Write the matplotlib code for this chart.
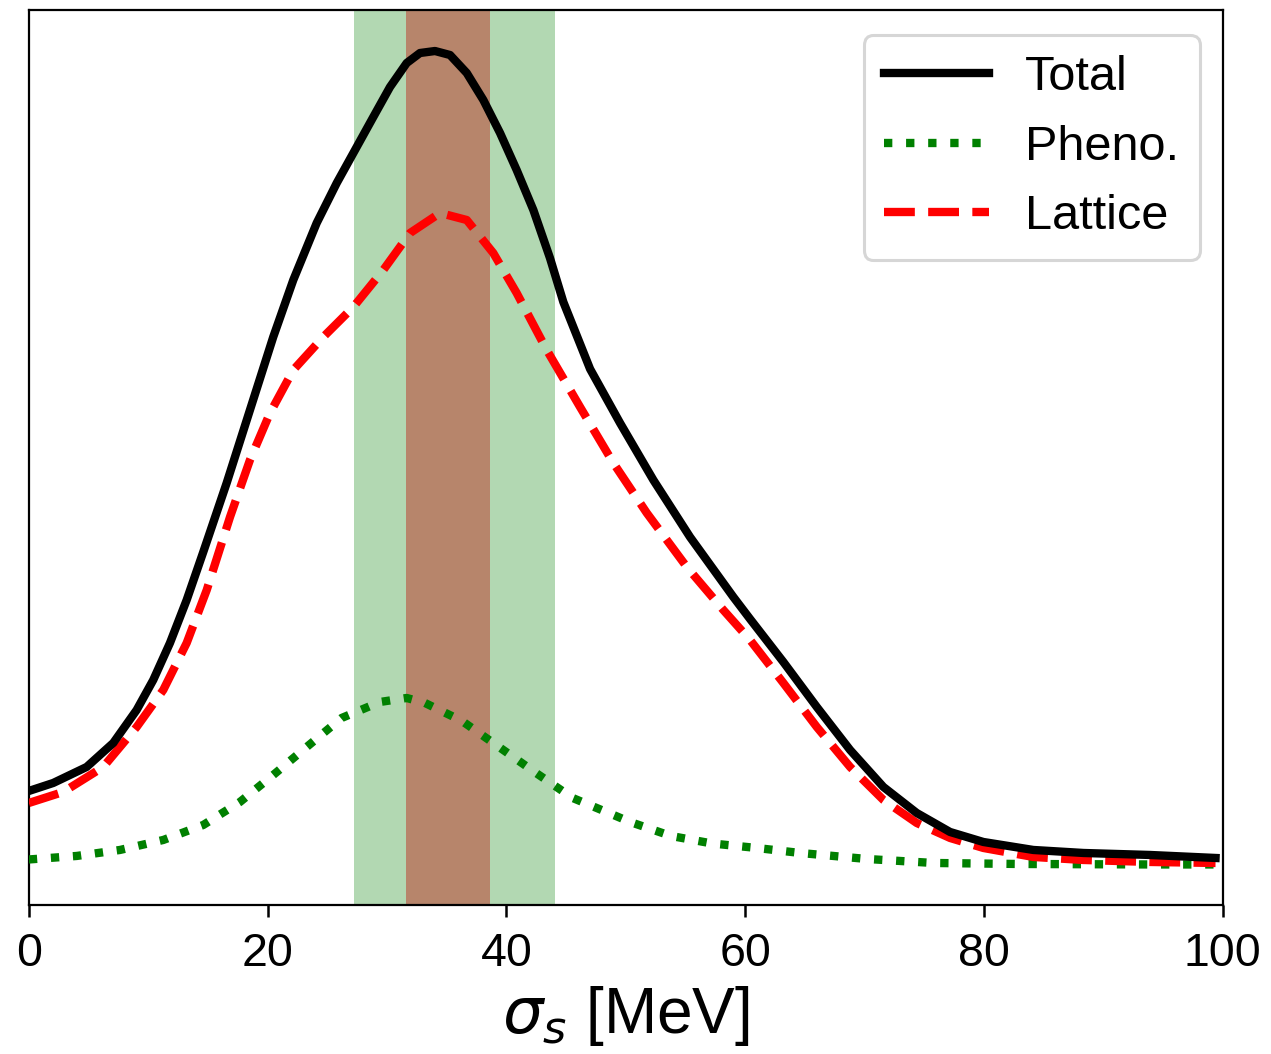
import numpy as np
import matplotlib
matplotlib.use("Agg")
import matplotlib.pyplot as plt

plt.rcParams['font.family'] = ['Liberation Sans', 'DejaVu Sans']
plt.rcParams['mathtext.fontset'] = 'dejavusans'

# ---- data ----
total_x = [0.0, 2.04, 4.84, 7.07, 9.03, 10.42, 11.82, 13.22, 14.61, 16.57, 18.52, 20.47,
           22.15, 24.11, 25.79, 27.46, 28.85, 30.25, 31.65, 32.76, 34.02, 35.28, 36.68,
           38.07, 39.47, 40.86, 42.26, 43.65, 44.77, 47.01, 49.52, 52.31, 55.38, 59.01,
           60.41, 63.20, 66.0, 68.79, 71.58, 74.37, 77.16, 79.95, 84.14, 88.33, 93.92,
           99.4]
total_y = [1.14, 1.22, 1.38, 1.62, 1.95, 2.25, 2.62, 3.05, 3.53, 4.22, 4.95, 5.68,
           6.25, 6.82, 7.22, 7.58, 7.88, 8.18, 8.42, 8.52, 8.54, 8.50, 8.32,
           8.05, 7.72, 7.35, 6.95, 6.47, 6.03, 5.36, 4.82, 4.25, 3.68, 3.08,
           2.86, 2.43, 1.98, 1.55, 1.18, 0.92, 0.73, 0.63, 0.55, 0.52, 0.50,
           0.47]

lattice_x = [0.0, 2.88, 6.23, 9.03, 11.26, 13.22, 14.90, 16.85, 18.52, 20.20, 22.15, 24.66,
             27.18, 29.69, 31.93, 34.44, 36.68, 38.90, 40.86, 43.38, 46.17, 48.96, 51.76,
             55.11, 58.17, 60.41, 63.20, 66.0, 68.79, 71.58, 74.37, 77.16, 79.95, 84.14,
             88.33, 93.92, 99.4]
lattice_y = [1.02, 1.13, 1.38, 1.78, 2.15, 2.62, 3.15, 3.88, 4.45, 4.92, 5.35, 5.68,
             5.98, 6.35, 6.72, 6.92, 6.85, 6.52, 6.12, 5.55, 4.98, 4.42, 3.92,
             3.38, 2.95, 2.65, 2.22, 1.78, 1.38, 1.05, 0.82, 0.67, 0.57, 0.48,
             0.45, 0.43, 0.42]

pheno_x = [0.0, 4.0, 7.63, 11.26, 14.61, 17.68, 20.47, 23.27, 26.20, 29.41, 31.65, 33.18,
           36.28, 39.38, 42.48, 45.55, 48.97, 50.36, 53.79, 57.22, 60.97, 64.6, 70.19,
           75.77, 82.75, 93.92, 99.4]
pheno_y = [0.455, 0.49, 0.55, 0.65, 0.80, 1.03, 1.30, 1.58, 1.87, 2.03, 2.07, 2.02,
           1.84, 1.58, 1.32, 1.07, 0.90, 0.83, 0.69, 0.615, 0.57, 0.52, 0.46,
           0.42, 0.41, 0.405, 0.405]

pheno_band = (27.2, 44.1)
lattice_band = (31.6, 38.6)

xticks = [0, 20, 40, 60, 80, 100]

# ---- figure ----
fig = plt.figure(figsize=(12.71, 10.54), dpi=100)
ax = fig.add_axes([0.0227, 0.1414, 0.9393, 0.8491])

ax.axvspan(*pheno_band, color='green', alpha=0.3, lw=0, zorder=1)
ax.axvspan(*lattice_band, color='#b7856b', alpha=1.0, lw=0, zorder=2)

ax.plot(total_x, total_y, color='black', lw=6.0, ls='-', label='Total', zorder=5)
ax.plot(pheno_x, pheno_y, color='green', lw=6.0, ls=':', label='Pheno.', zorder=4)
ax.plot(lattice_x, lattice_y, color='red', lw=6.0, ls='--', label='Lattice', zorder=4)

ax.set_xlim(0, 100)
ax.set_ylim(0, 8.95)
ax.set_xticks(xticks)
ax.set_yticks([])
ax.tick_params(axis='x', direction='out', length=8.5, width=1.8, labelsize=33.5, pad=11)
for s in ax.spines.values():
    s.set_linewidth(1.6)

ax.set_xlabel(r'$\sigma_s$ [MeV]', fontsize=46, labelpad=6)

leg = ax.legend(loc='upper right', fontsize=35, handlelength=2.15, handletextpad=0.75,
                labelspacing=0.5, borderpad=0.42, borderaxespad=0, frameon=True,
                fancybox=True, edgecolor='#d6d6d6', framealpha=1.0,
                bbox_to_anchor=(0.9807, 0.972))
leg.get_frame().set_linewidth(2.2)

fig.savefig('out.png', dpi=100)
